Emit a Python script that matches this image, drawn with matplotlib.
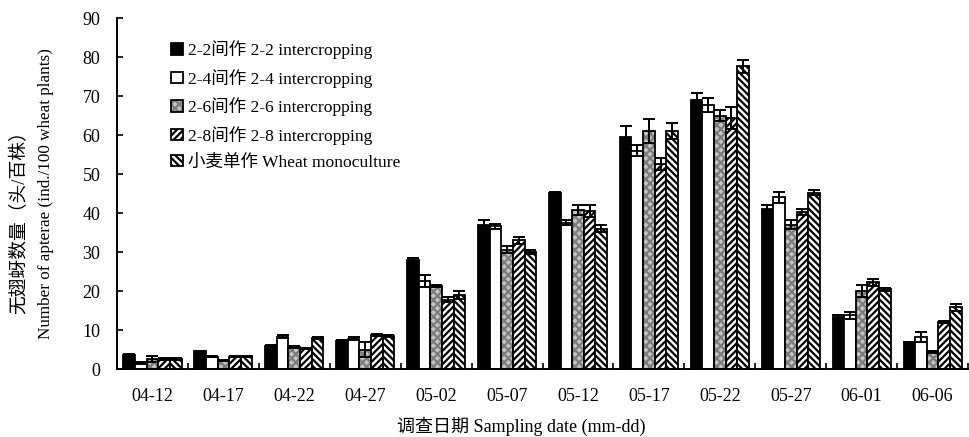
import numpy as np
import matplotlib
matplotlib.use("Agg")
from matplotlib import pyplot as plt
from matplotlib.legend_handler import HandlerTuple

plt.rcParams['font.family'] = ['Liberation Serif', 'Noto Sans CJK SC']
plt.rcParams['hatch.linewidth'] = 1.6

# sampling dates
dates = ['04-12', '04-17', '04-22', '04-27', '05-02', '05-07',
         '05-12', '05-17', '05-22', '05-27', '06-01', '06-06']

# apterae per 100 wheat plants, mean and error
s22 = [3.7, 4.5, 5.9, 7.2, 28.0, 36.8, 45.2, 59.4, 69.0, 41.0, 13.4, 6.8]
e22 = [0.2, 0.2, 0.2, 0.2, 0.4, 1.5, 0.3, 2.9, 1.7, 1.0, 0.5, 0.2]
s24 = [1.5, 3.2, 8.3, 7.8, 22.5, 36.6, 37.5, 56.0, 67.8, 44.0, 13.8, 8.2]
e24 = [0.2, 0.2, 0.3, 0.3, 1.5, 0.6, 0.6, 1.5, 1.8, 1.5, 0.9, 1.2]
s26 = [2.6, 2.2, 5.6, 5.0, 21.2, 30.6, 40.8, 61.0, 65.0, 37.0, 20.0, 4.3]
e26 = [0.8, 0.2, 0.3, 1.8, 0.3, 0.9, 1.3, 3.0, 1.4, 1.1, 1.6, 0.2]
s28 = [2.6, 3.2, 5.3, 8.8, 17.8, 33.0, 40.5, 52.5, 64.3, 40.2, 22.2, 12.1]
e28 = [0.2, 0.2, 0.2, 0.3, 0.7, 0.9, 1.5, 1.6, 2.8, 0.8, 0.9, 0.3]
swm = [2.6, 3.2, 8.0, 8.5, 19.0, 30.0, 36.0, 61.1, 77.6, 45.2, 20.4, 15.8]
ewm = [0.2, 0.2, 0.2, 0.2, 1.1, 0.5, 0.9, 2.1, 1.6, 0.6, 0.3, 0.8]

labels = ['2-2间作 2-2 intercropping', '2-4间作 2-4 intercropping',
          '2-6间作 2-6 intercropping', '2-8间作 2-8 intercropping',
          '小麦单作 Wheat monoculture']
means = [s22, s24, s26, s28, swm]
errs = [e22, e24, e26, e28, ewm]
# face, hatch, hatch colour
styles = [('black', '', 'black'),
          ('white', '', 'black'),
          ('#c4c4c4', 'xxxx', '#7c7c7c'),
          ('white', '/////', 'black'),
          ('white', '\\\\\\\\\\', 'black')]

fig = plt.figure(figsize=(9.7, 4.37), dpi=100)
ax = fig.add_axes([0.1206, 0.1556, 0.8774, 0.8032])

x = np.arange(len(dates))
w = 0.164
handles = []
for i, (m, e, st) in enumerate(zip(means, errs, styles)):
    pos = x + (i - 2) * w
    fill = ax.bar(pos, m, w, color=st[0], hatch=st[1], edgecolor=st[2], linewidth=0)
    edge = ax.bar(pos, m, w, fill=False, edgecolor='black', linewidth=1.3)
    ax.errorbar(pos, m, yerr=e, fmt='none', ecolor='black', elinewidth=1.4,
                capsize=4.2, capthick=1.4)
    handles.append((fill, edge))

ax.set_xlim(-0.5, 11.47)
ax.set_ylim(0, 90)
ax.set_yticks(range(0, 91, 10))
ax.set_xticks(x)
ax.set_xticklabels(dates)
ax.set_xticks(np.arange(-0.5, 11.6, 1), minor=True)
ax.tick_params(axis='x', which='major', length=0, pad=14, labelsize=13)
ax.tick_params(axis='x', which='minor', direction='in', length=4, width=1.2)
ax.tick_params(axis='y', direction='in', length=4, width=1.2, pad=12, labelsize=13)
for s in ['top', 'right']:
    ax.spines[s].set_visible(False)
for s in ['left', 'bottom']:
    ax.spines[s].set_linewidth(1.4)

ax.legend(handles, labels, handler_map={tuple: HandlerTuple(ndivide=1)},
          loc='upper left', bbox_to_anchor=(0.064, 0.936), frameon=False,
          fontsize=12.6, handlelength=0.64, handleheight=0.64,
          handletextpad=0.3, labelspacing=0.55, borderpad=0, borderaxespad=0)

fig.text(0.02, 0.503, '无翅蚜数量（头/百株）', rotation=90, ha='center', va='center', fontsize=13.5)
fig.text(0.047, 0.558, 'Number of apterae (ind./100 wheat plants)', rotation=90,
         ha='center', va='center', fontsize=12.3)
fig.text(0.537, 0.024, '调查日期 Sampling date (mm-dd)', ha='center', va='center', fontsize=13)

fig.savefig('out.png', dpi=100)
